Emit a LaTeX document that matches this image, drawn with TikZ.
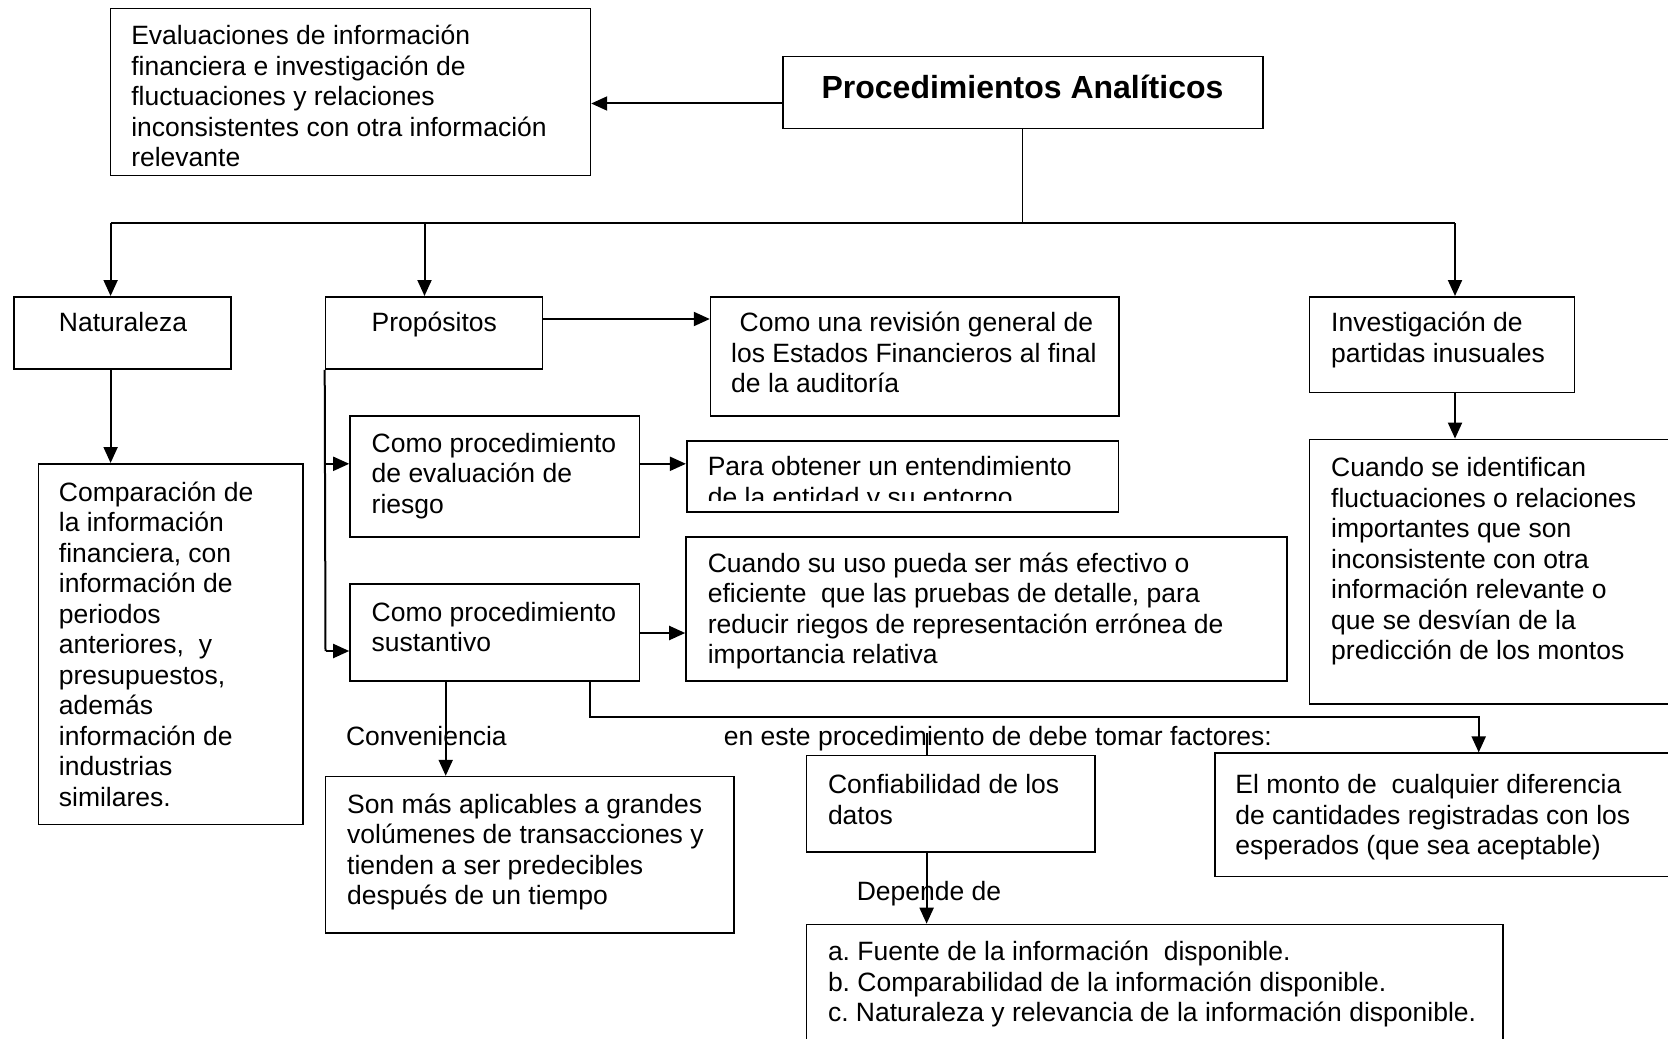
\documentclass[tikz,border=0pt]{standalone}
\usepackage{fontspec}
\setmainfont{Liberation Sans}
\usetikzlibrary{arrows.meta,fit}

% body text size and a strut that fixes the first baseline 24px below a text node's top
\newcommand\txtfont{\frenchspacing\fontsize{13.25pt}{15.25pt}\selectfont}
\newcommand\firstline{\rule{0pt}{12pt}}

\tikzset{
  box/.style={draw, line width=0.8pt, inner sep=0pt},
  txt/.style={anchor=north west, inner sep=0pt, align=left, font=\txtfont},
  conn/.style={line width=1pt},
  arr/.style={conn, -{Triangle[length=8pt,width=7pt]}},
}

\begin{document}
\begin{tikzpicture}[x=0.5pt, y=-0.5pt]
\clip (0,0) rectangle (1668,1038);
\fill[white] (0,0) rectangle (1668,1038);

% ---------- boxes ----------
\node[box, fit={(110.6,8.5) (590.4,175.5)}] (eval) {};
\node[box, fit={(782.7,56.7) (1263,128.3)}] (proc) {};
\node[box, fit={(13.8,296.8) (230.8,369.1)}] (nat) {};
\node[box, fit={(325.5,296.8) (542.5,369.1)}] (prop) {};
\node[box, fit={(710.6,296.8) (1119,416)}] (rev) {};
\node[box, fit={(1309.5,296.8) (1574.4,392.5)}] (inv) {};
\node[box, fit={(1309.5,439.4) (1690,704)}] (ident) {};
\node[box, fit={(38.3,463.8) (303.2,824.5)}] (comp) {};
\node[box, fit={(350,416) (639.3,537.2)}] (riesgo) {};
\node[box, fit={(686.7,440.7) (1118.5,511.7)}] (para) {};
\node[box, fit={(350,584) (639.3,680.9)}] (sust) {};
\node[box, fit={(686,537.2) (1287.2,680.9)}] (uso) {};
\node[box, fit={(325.5,776.6) (734,933)}] (conv) {};
\node[box, fit={(806.4,755.3) (1094.7,852.1)}] (conf) {};
\node[box, fit={(1214.9,753.2) (1690,876.6)}] (monto) {};
\node[box, fit={(806.4,924.5) (1503.1,1060)}] (lista) {};

% ---------- texts ----------
\node[anchor=base, inner sep=0pt, font=\bfseries\fontsize{16pt}{19pt}\selectfont] (proct) at (1022.5,98) {Procedimientos Analíticos};

\node[txt] (evalt) at (130.9,20.3) {\firstline Evaluaciones de información\\financiera e investigación de\\fluctuaciones y relaciones\\inconsistentes con otra información\\relevante};
\node[txt] (natt) at (58.5,307.5) {\firstline Naturaleza};
\node[txt] (propt) at (371.3,307.5) {\firstline Propósitos};
\node[txt] (revt) at (730.8,307.5) {\firstline\hspace*{4.25pt}Como una revisión general de\\los Estados Financieros al final\\de la auditoría};
\node[txt] (invt) at (1330.8,307.5) {\firstline Investigación de\\partidas inusuales};
\node[txt] (identt) at (1330.8,452.5) {\firstline Cuando se identifican\\fluctuaciones o relaciones\\importantes que son\\inconsistente con otra\\información relevante o\\que se desvían de la\\predicción de los montos};
\node[txt] (compt) at (58.5,477) {\firstline Comparación de\\la información\\financiera, con\\información de\\periodos\\anteriores,~ y\\presupuestos,\\además\\información de\\industrias\\similares.};
\node[txt] (riesgot) at (371.3,428) {\firstline Como procedimiento\\de evaluación de\\riesgo};
\begin{scope}
  \clip (686,440) rectangle (1119,500);
  \node[txt] (parat) at (707.4,451.5) {\firstline Para obtener un entendimiento\\de la entidad y su entorno};
\end{scope}
\node[txt] (sustt) at (371.3,597) {\firstline Como procedimiento\\sustantivo};
\node[txt] (usot) at (707.4,548) {\firstline Cuando su uso pueda ser más efectivo o\\eficiente~ que las pruebas de detalle, para\\reducir riegos de representación errónea de\\importancia relativa};
\node[txt] (convt) at (346.8,788.7) {\firstline Son más aplicables a grandes\\volúmenes de transacciones y\\tienden a ser predecibles\\después de un tiempo};
\node[txt] (conft) at (827.6,769.5) {\firstline Confiabilidad de los\\datos};
\node[txt] (montot) at (1235,769.5) {\firstline El monto de~ cualquier diferencia\\de cantidades registradas con los\\esperados (que sea aceptable)};
\node[txt] (listat) at (827.6,936.5) {\firstline a. Fuente de la información~ disponible.\\b. Comparabilidad de la información disponible.\\c. Naturaleza y relevancia de la información disponible.};

% ---------- connectors ----------
% title to the evaluation box
\path (proc.west) ++(0,11) coordinate (pw);
\draw[arr] (pw) -- (pw -| eval.east);

% title down to the distribution bar
\coordinate (bn) at (110.6,223.4);
\coordinate (bp) at (424.5,223.4);
\coordinate (bi) at (1455,223.4);
\draw[line width=0.6pt] (proc.south) -- (proc.south |- bn);
\draw[conn] (bn) -- (bi);
\draw[arr] (bn) -- (bn |- nat.north);
\draw[arr] (bp) -- (bp |- prop.north);
\draw[arr] (bi) -- (bi |- inv.north);

% Propósitos branches
\coordinate (pr) at (542.5,319);
\draw[arr] (pr) -- (pr -| rev.west);
\coordinate (pa) at (325.5,463.8);
\coordinate (pb) at (325.5,651);
\draw[conn] (prop.south west) -- (pb);
\draw[arr] (pa) -- (pa -| riesgo.west);
\draw[arr] (pb) -- (pb -| sust.west);

% Naturaleza and Investigación downwards
\coordinate (nd) at (110.6,369.1);
\draw[arr] (nd) -- (nd |- comp.north);
\coordinate (id) at (1455,392.5);
\draw[arr] (id) -- (id |- ident.north);

% procedures to their purposes
\coordinate (ra) at (639.3,463.8);
\draw[arr] (ra) -- (ra -| para.west);
\coordinate (sa) at (639.3,633);
\draw[arr] (sa) -- (sa -| uso.west);

% Conveniencia
\coordinate (cv) at (445.7,680.9);
\draw[arr] (cv) -- (cv |- conv.north);
\node[txt] (convl) at (345.7,721.5) {\firstline Conveniencia};

% factors to consider
\coordinate (fs) at (590.4,680.9);
\coordinate (fc) at (590.4,717);
\coordinate (fm) at (1478.7,717);
\draw[arr] (fs) -- (fc) -- (fm) -- (fm |- monto.north);
\node[txt] (factt) at (723.4,721.5) {\firstline en este procedimiento de debe tomar factores:};
\coordinate (fl) at (926.6,733);
\draw[conn] (fl) -- (fl |- conf.north);

% Depende de
\coordinate (dd) at (926.6,852.1);
\draw[arr] (dd) -- (dd |- lista.north);
\node[txt] (depl) at (856.4,876) {\firstline Depende de};
\end{tikzpicture}
\end{document}
